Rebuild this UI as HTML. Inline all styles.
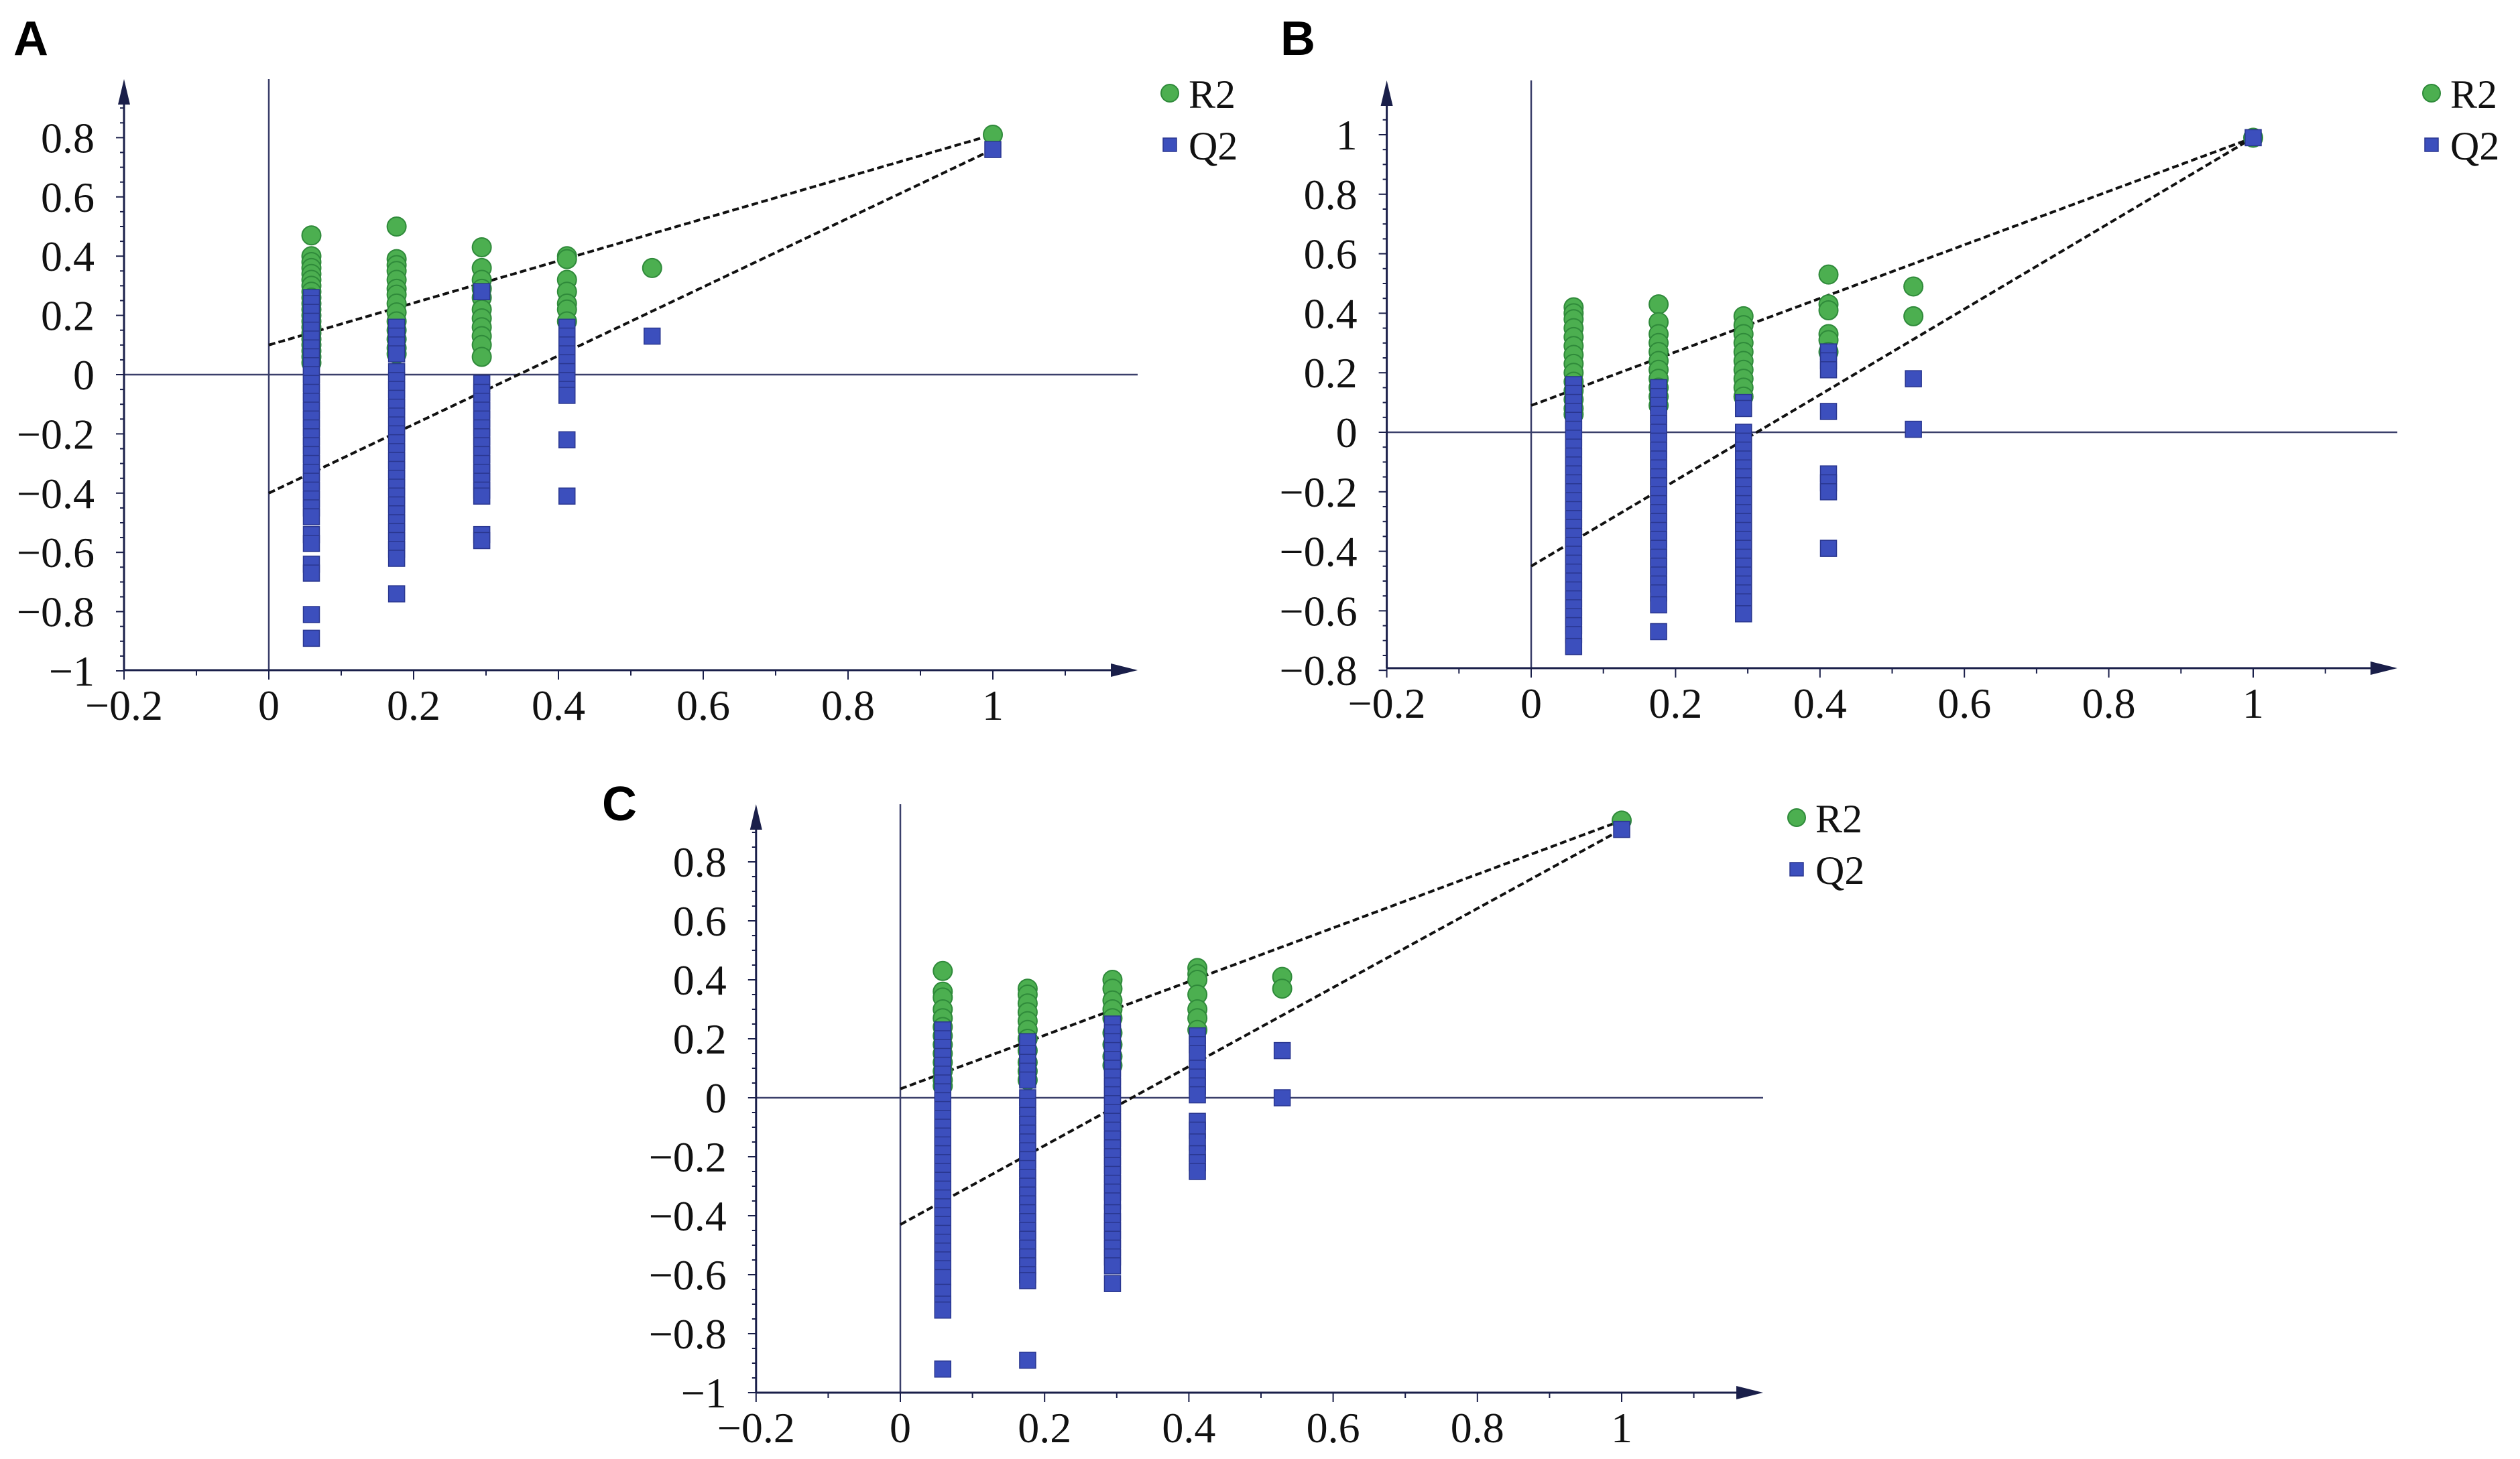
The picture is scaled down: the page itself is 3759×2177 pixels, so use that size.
<!DOCTYPE html>
<html><head><meta charset="utf-8"><style>
html,body{margin:0;padding:0;background:#fff;}
svg{display:block;}
</style></head><body>
<svg id="fig" width="3759" height="2177" viewBox="0 0 3759 2177" xmlns="http://www.w3.org/2000/svg">
<text x="20" y="82" font-family="'Liberation Sans', sans-serif" font-weight="bold" font-size="72">A</text>
<text x="1910" y="82" font-family="'Liberation Sans', sans-serif" font-weight="bold" font-size="72">B</text>
<text x="898" y="1224" font-family="'Liberation Sans', sans-serif" font-weight="bold" font-size="72">C</text>
</svg>
<script>
const xCols = [0.0588, 0.1765, 0.2941, 0.4118, 0.5294, 1];
const xTicks = [-0.2, 0, 0.2, 0.4, 0.6, 0.8, 1];

const aR2 = [
 [0.47,0.40,0.38,0.36,0.34,0.32,0.30,0.28,0.26,0.24,0.22,0.20,0.18,0.16,0.14,0.12,0.10,0.08,0.06,0.04],
 [0.50,0.39,0.37,0.35,0.32,0.29,0.27,0.24,0.21,0.18,0.15,0.12,0.09,0.07],
 [0.43,0.36,0.32,0.29,0.26,0.22,0.19,0.16,0.13,0.10,0.06],
 [0.40,0.39,0.32,0.28,0.24,0.22,0.18],
 [0.36],
 [0.81]
];
const aQ2 = [
 [0.26,0.24,0.21,0.18,0.15,0.12,0.09,0.06,0.03,0.00,-0.03,-0.06,-0.09,-0.12,-0.15,-0.18,-0.21,-0.24,-0.27,-0.30,-0.33,-0.36,-0.39,-0.42,-0.45,-0.48,-0.54,-0.57,-0.64,-0.67,-0.81,-0.89],
 [0.16,0.13,0.10,0.07,0.01,-0.02,-0.05,-0.08,-0.11,-0.14,-0.17,-0.20,-0.23,-0.26,-0.29,-0.32,-0.35,-0.38,-0.41,-0.44,-0.47,-0.50,-0.53,-0.56,-0.59,-0.62,-0.74],
 [0.28,-0.03,-0.06,-0.09,-0.12,-0.15,-0.18,-0.21,-0.24,-0.27,-0.30,-0.33,-0.36,-0.39,-0.41,-0.54,-0.56],
 [0.16,0.13,0.10,0.07,0.04,0.01,-0.02,-0.05,-0.07,-0.22,-0.41],
 [0.13],
 [0.76]
];
const aLines = [[0.10, 0.81], [-0.40, 0.76]];
const aYTicks = [-1, -0.8, -0.6, -0.4, -0.2, 0, 0.2, 0.4, 0.6, 0.8];

const bR2 = [
 [0.42,0.40,0.38,0.35,0.32,0.29,0.26,0.23,0.20,0.17,0.14,0.11,0.08,0.06],
 [0.43,0.37,0.33,0.30,0.27,0.24,0.21,0.18,0.15,0.12,0.09],
 [0.39,0.36,0.33,0.30,0.27,0.24,0.21,0.18,0.15,0.12],
 [0.53,0.43,0.41,0.33,0.31,0.27],
 [0.49,0.39],
 [0.99]
];
const bQ2 = [
 [0.16,0.13,0.10,0.07,0.04,0.01,-0.02,-0.05,-0.08,-0.11,-0.14,-0.17,-0.20,-0.23,-0.26,-0.29,-0.32,-0.35,-0.38,-0.41,-0.44,-0.47,-0.50,-0.53,-0.56,-0.59,-0.62,-0.65,-0.68,-0.72],
 [0.15,0.12,0.09,0.06,0.03,0.00,-0.03,-0.06,-0.09,-0.12,-0.15,-0.18,-0.21,-0.24,-0.27,-0.30,-0.33,-0.36,-0.39,-0.42,-0.45,-0.48,-0.51,-0.54,-0.58,-0.67],
 [0.10,0.08,0.00,-0.03,-0.06,-0.09,-0.12,-0.15,-0.18,-0.21,-0.24,-0.27,-0.30,-0.33,-0.36,-0.39,-0.42,-0.45,-0.48,-0.51,-0.54,-0.57,-0.61],
 [0.27,0.24,0.21,0.07,-0.14,-0.17,-0.20,-0.39],
 [0.18,0.01],
 [0.99]
];
const bLines = [[0.09, 0.99], [-0.45, 0.99]];
const bYTicks = [-0.8, -0.6, -0.4, -0.2, 0, 0.2, 0.4, 0.6, 0.8, 1];

const cR2 = [
 [0.43,0.36,0.34,0.30,0.27,0.24,0.21,0.18,0.15,0.12,0.09,0.06,0.04],
 [0.37,0.35,0.32,0.29,0.26,0.23,0.20,0.16,0.12,0.09,0.06],
 [0.40,0.37,0.33,0.30,0.27,0.22,0.18,0.14,0.11],
 [0.44,0.42,0.40,0.35,0.30,0.27,0.23],
 [0.41,0.37],
 [0.94]
];
const cQ2 = [
 [0.23,0.20,0.17,0.14,0.11,0.08,0.05,0.02,-0.01,-0.04,-0.07,-0.10,-0.13,-0.16,-0.19,-0.22,-0.25,-0.28,-0.31,-0.34,-0.37,-0.40,-0.43,-0.46,-0.49,-0.52,-0.55,-0.58,-0.61,-0.66,-0.70,-0.72,-0.92],
 [0.19,0.15,0.12,0.09,0.06,0.00,-0.03,-0.06,-0.09,-0.12,-0.15,-0.18,-0.21,-0.24,-0.27,-0.30,-0.33,-0.36,-0.39,-0.42,-0.45,-0.48,-0.51,-0.54,-0.57,-0.60,-0.62,-0.89],
 [0.25,0.22,0.19,0.16,0.13,0.10,0.07,0.04,0.01,-0.02,-0.05,-0.08,-0.11,-0.14,-0.17,-0.20,-0.23,-0.26,-0.29,-0.32,-0.35,-0.39,-0.42,-0.45,-0.48,-0.51,-0.54,-0.57,-0.63],
 [0.21,0.18,0.15,0.10,0.07,0.04,0.01,-0.08,-0.11,-0.15,-0.19,-0.22,-0.25],
 [0.16,0.00],
 [0.91]
];
const cLines = [[0.03, 0.94], [-0.43, 0.91]];
const cYTicks = [-1, -0.8, -0.6, -0.4, -0.2, 0, 0.2, 0.4, 0.6, 0.8];

const NS = 'http://www.w3.org/2000/svg';
const svg = document.getElementById('fig');
const SERIF = "'Liberation Serif', 'DejaVu Serif', serif";
function mk(tag, attrs, parent) {
  const e = document.createElementNS(NS, tag);
  for (const k in attrs) e.setAttribute(k, attrs[k]);
  (parent || svg).appendChild(e);
  return e;
}
function fmt(v) {
  if (Math.abs(v) < 1e-9) return '0';
  let s = String(Math.round(Math.abs(v) * 10) / 10);
  return (v < 0 ? '\u2212' : '') + s;
}

function panel(id, cfg, r2, q2, lines, yTicks) {
  const g = mk('g', {});
  
  
  const sx = v => cfg.x0 + v * cfg.xu;
  const sy = v => cfg.y0 - v * cfg.yu;
  const axX = sx(-0.2);
  const axY = cfg.yBottom;
  const hz = mk('line', {x1: axX, y1: sy(0), x2: cfg.xEnd, y2: sy(0), stroke: '#3a3f6a', 'stroke-width': 2.5}, g);
  
  
  const vz = mk('line', {x1: sx(0), y1: cfg.yTop, x2: sx(0), y2: axY, stroke: '#3a3f6a', 'stroke-width': 2.5}, g);
  
  
  const xa = mk('line', {x1: axX, y1: axY, x2: cfg.xEnd - 10, y2: axY, stroke: '#1a1f4a', 'stroke-width': 3}, g);
  
  
  const xar = mk('polygon', {points: `${cfg.xEnd},${axY} ${cfg.xEnd-40},${axY-10} ${cfg.xEnd-40},${axY+10}`, fill: '#1a1f4a'}, g);
  
  
  const ya = mk('line', {x1: axX, y1: axY, x2: axX, y2: cfg.yTop + 10, stroke: '#1a1f4a', 'stroke-width': 3}, g);
  
  
  const yar = mk('polygon', {points: `${axX},${cfg.yTop} ${axX-9},${cfg.yTop+38} ${axX+9},${cfg.yTop+38}`, fill: '#1a1f4a'}, g);
  
  
  for (let i = 0; i <= 13; i++) {
    const v = -0.2 + i * 0.1;
    const major = i % 2 === 0;
    const t = mk('line', {x1: sx(v), y1: axY, x2: sx(v), y2: axY + (major ? 14 : 8), stroke: '#1a1f4a', 'stroke-width': 2}, g);
    
    
  }
  xTicks.forEach(v => {
    const t = mk('text', {x: sx(v), y: axY + 74, 'text-anchor': 'middle', 'font-family': SERIF, 'font-size': 64, fill: '#111'}, g);
    t.textContent = fmt(v);
    
    
  });
  const yMin = yTicks[0], yMax = yTicks[yTicks.length - 1];
  for (let v = yMin; v <= yMax + 0.15; v += 0.05) {
    const yy = sy(v);
    if (yy < cfg.yTop + 30) break;
    const major = Math.abs(Math.round(v * 10) - v * 10) < 0.01 && Math.round(v * 10) % 2 === 0;
    const t = mk('line', {x1: axX, y1: yy, x2: axX - (major ? 12 : 6), y2: yy, stroke: '#1a1f4a', 'stroke-width': 2}, g);
    
    
  }
  yTicks.forEach(v => {
    const t = mk('text', {x: axX - 44, y: sy(v) + 22, 'text-anchor': 'end', 'font-family': SERIF, 'font-size': 64, fill: '#111'}, g);
    t.textContent = fmt(v);
    
    
  });
  lines.forEach((ln, i) => {
    const l = mk('line', {x1: sx(0), y1: sy(ln[0]), x2: sx(1), y2: sy(ln[1]), stroke: '#111', 'stroke-width': 4, 'stroke-dasharray': '10,5'}, g);
    
    
  });
  r2.forEach((col, ci) => col.forEach(v => {
    const c = mk('circle', {cx: sx(xCols[ci]), cy: sy(v), r: 14, fill: '#4caf50', stroke: '#2f8a3a', 'stroke-width': 2}, g);
    
    
  }));
  q2.forEach((col, ci) => col.forEach(v => {
    const r = mk('rect', {x: sx(xCols[ci]) - 12, y: sy(v) - 12, width: 24, height: 24, fill: '#3c4fbd', stroke: '#2a3790', 'stroke-width': 1.5}, g);
    
    
  }));
  const lg = mk('g', {}, g);
  
  
  const lc = mk('circle', {cx: cfg.legX, cy: cfg.legY, r: 13, fill: '#4caf50', stroke: '#2f8a3a', 'stroke-width': 2}, lg);
  
  
  const lt1 = mk('text', {x: cfg.legX + 28, y: cfg.legY + 22, 'font-family': SERIF, 'font-size': 60, fill: '#111'}, lg);
  lt1.textContent = 'R2';
  
  
  const lr = mk('rect', {x: cfg.legX - 10, y: cfg.legY + 67, width: 20, height: 20, fill: '#3c4fbd', stroke: '#2a3790', 'stroke-width': 1.5}, lg);
  
  
  const lt2 = mk('text', {x: cfg.legX + 28, y: cfg.legY + 99, 'font-family': SERIF, 'font-size': 60, fill: '#111'}, lg);
  lt2.textContent = 'Q2';
  
  
}

panel('a', {x0: 401, xu: 1080, y0: 559, yu: 442, yTop: 118, yBottom: 1000, xEnd: 1697, legX: 1745, legY: 139}, aR2, aQ2, aLines, aYTicks);
panel('b', {x0: 2284, xu: 1077, y0: 645, yu: 444, yTop: 120, yBottom: 997, xEnd: 3576, legX: 3627, legY: 139}, bR2, bQ2, bLines, bYTicks);
panel('c', {x0: 1343, xu: 1076, y0: 1638, yu: 440, yTop: 1200, yBottom: 2078, xEnd: 2630, legX: 2680, legY: 1220}, cR2, cQ2, cLines, cYTicks);
</script>
</body></html>
